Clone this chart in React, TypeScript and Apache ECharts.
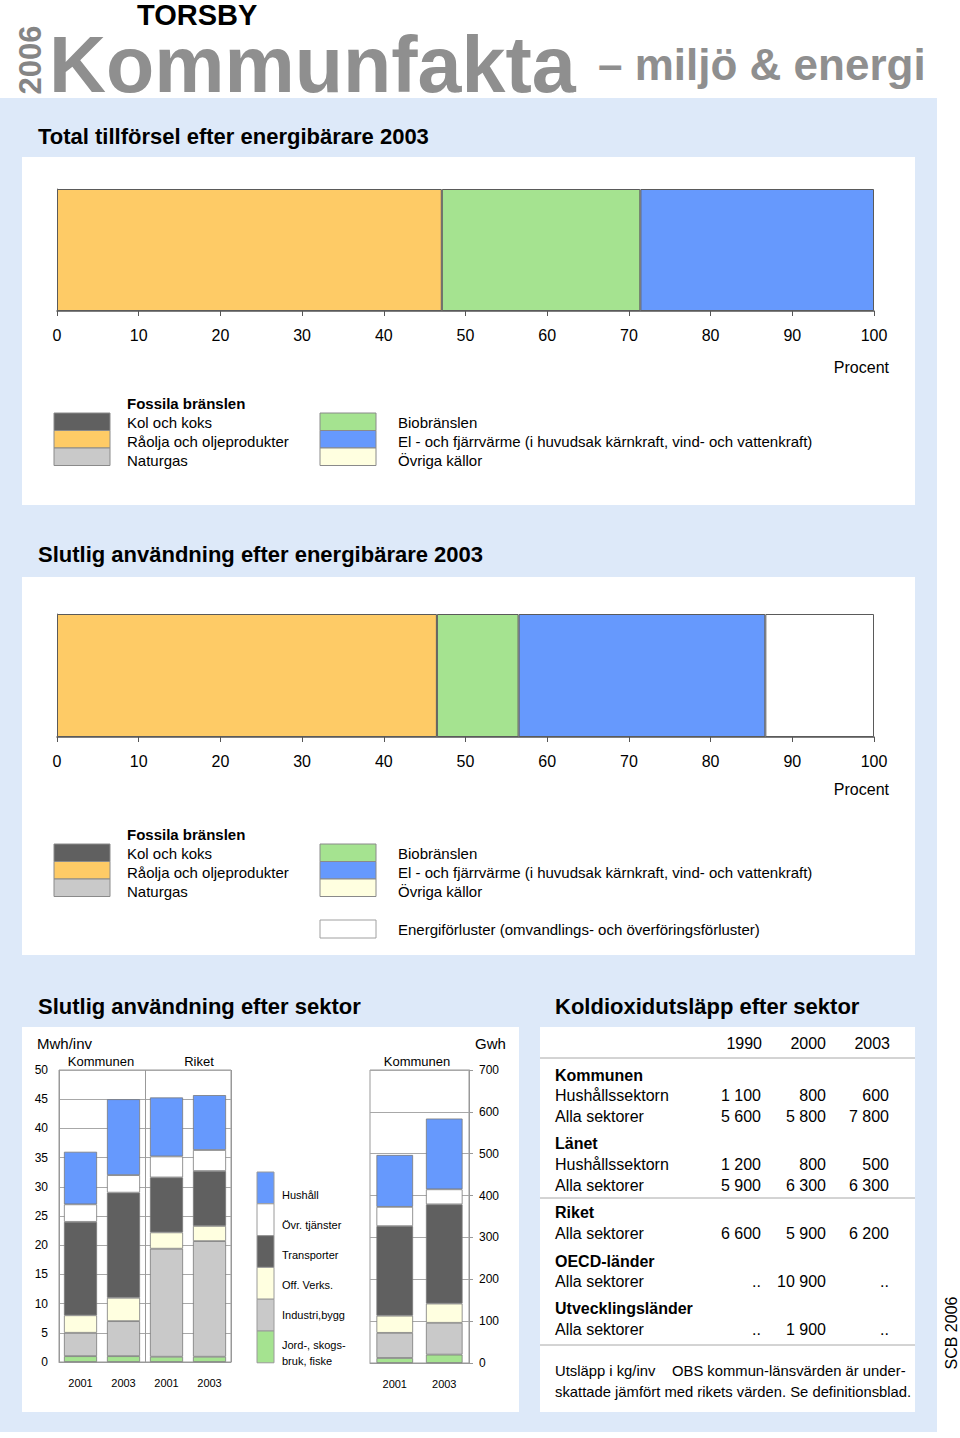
import React, { useEffect, useRef } from "react";
import * as echarts from "echarts";

const FONT = '"Liberation Sans", Arial, Helvetica, sans-serif';

// ---------- Data ----------
const carriers = [
  "Kol och koks",
  "Råolja och oljeprodukter",
  "Naturgas",
  "Biobränslen",
  "El - och fjärrvärme (i huvudsak kärnkraft, vind- och vattenkraft)",
  "Övriga källor",
  "Energiförluster (omvandlings- och överföringsförluster)",
];
const supplyShares2003 = [0, 47.1, 0, 24.3, 28.6, 0, 0];
const finalUseShares2003 = [0, 46.5, 0, 10.0, 30.2, 0, 13.3];
const percentTicks = ["0", "10", "20", "30", "40", "50", "60", "70", "80", "90", "100"];

const sectors = ["Jord-, skogsbruk, fiske", "Industri,bygg", "Off. Verks.", "Transporter", "Övr. tjänster", "Hushåll"];
const sectorLegendLabels = ["Jord-, skogs-\nbruk, fiske", "Industri,bygg", "Off. Verks.", "Transporter", "Övr. tjänster", "Hushåll"];
const perCapitaYears = ["2001", "2003", "2001", "2003"];
const perCapitaJord = [1.0, 1.0, 0.9, 0.9];
const perCapitaIndustri = [4.0, 6.0, 18.5, 19.8];
const perCapitaOff = [3.0, 4.0, 2.8, 2.6];
const perCapitaTransport = [16.0, 18.0, 9.4, 9.4];
const perCapitaOvr = [3.0, 3.0, 3.6, 3.6];
const perCapitaHushall = [9.0, 13.0, 10.1, 9.4];

const gwhYears = ["2001", "2003"];
const gwhJord = [12, 20];
const gwhIndustri = [60, 76];
const gwhOff = [41, 46];
const gwhTransport = [214, 237];
const gwhOvr = [46, 36];
const gwhHushall = [124, 169];

const co2Years = ["1990", "2000", "2003"];
const co2Kommunen = [
  ["Hushållssektorn", "1 100", "800", "600"],
  ["Alla sektorer", "5 600", "5 800", "7 800"],
];
const co2Lanet = [
  ["Hushållssektorn", "1 200", "800", "500"],
  ["Alla sektorer", "5 900", "6 300", "6 300"],
];
const co2Riket = [["Alla sektorer", "6 600", "5 900", "6 200"]];
const co2Oecd = [["Alla sektorer", "..", "10 900", ".."]];
const co2Utv = [["Alla sektorer", "..", "1 900", ".."]];

// ---------- Styles ----------
const C_DARK = "#606060";
const C_ORANGE = "#fecb66";
const C_GRAY = "#c9c9c9";
const C_GREEN = "#a5e390";
const C_BLUE = "#6699fd";
const C_CREAM = "#ffffe0";
const C_WHITE = "#ffffff";
const C_BG = "#dde9f9";
const carrierColors = [C_DARK, C_ORANGE, C_GRAY, C_GREEN, C_BLUE, C_CREAM, C_WHITE];
const sectorColors = [C_GREEN, C_GRAY, C_CREAM, C_DARK, C_WHITE, C_BLUE];

function txt(text: string, x: number, y: number, o: any = {}) {
  return {
    type: "text",
    z: 100,
    x: o.cx ?? 0,
    y: o.cy ?? 0,
    rotation: o.rotation ?? 0,
    style: {
      text,
      x: o.cx != null ? 0 : x,
      y: o.cy != null ? 0 : y,
      fill: o.color ?? "#000",
      fontSize: o.size ?? 15,
      fontWeight: o.weight ?? "normal",
      fontFamily: o.family ?? FONT,
      align: o.align ?? "left",
      textAlign: o.align ?? "left",
      verticalAlign: "middle",
      textVerticalAlign: "middle",
      lineHeight: o.lineHeight,
    },
  };
}
function rect(x: number, y: number, w: number, h: number, fill: string, stroke?: string, z = -5) {
  return {
    type: "rect",
    z,
    shape: { x, y, width: w, height: h },
    style: { fill, stroke: stroke ?? null, lineWidth: stroke ? 1 : 0 },
  };
}
function hline(x1: number, x2: number, y: number, color = "#a8a8a8") {
  return { type: "line", z: 50, shape: { x1, y1: y, x2, y2: y }, style: { stroke: color, lineWidth: 1 } };
}

function carrierLegend(y0: number, withLoss: boolean) {
  const els: any[] = [];
  els.push(txt("Fossila bränslen", 127, y0, { weight: "bold" }));
  const step = 19;
  const boxH = 17.5;
  const leftIdx = [0, 1, 2];
  const rightIdx = [3, 4, 5];
  leftIdx.forEach((ci, k) => {
    els.push(rect(54, y0 + 10 + k * boxH, 56, boxH, carrierColors[ci], "#8a8a8a", 60));
    els.push(txt(carriers[ci], 127, y0 + step * (k + 1)));
  });
  rightIdx.forEach((ci, k) => {
    els.push(rect(320, y0 + 10 + k * boxH, 56, boxH, carrierColors[ci], "#8a8a8a", 60));
    els.push(txt(carriers[ci], 398, y0 + step * (k + 1)));
  });
  if (withLoss) {
    els.push(rect(320, y0 + 86, 56, 18, carrierColors[6], "#a0a0a0", 60));
    els.push(txt(carriers[6], 398, y0 + 95));
  }
  return els;
}

function co2Block(rows: string[][], y0: number) {
  const els: any[] = [];
  const rights = [761, 826, 889];
  rows.forEach((r, i) => {
    const y = y0 + i * 21;
    els.push(txt(r[0], 555, y, { size: 16 }));
    for (let k = 1; k < 4; k++) els.push(txt(r[k], rights[k - 1], y, { size: 16, align: "right" }));
  });
  return els;
}

export default function App() {
  const ref = useRef<HTMLDivElement>(null);
  useEffect(() => {
    if (!ref.current) return;
    const chart = echarts.init(ref.current, undefined, { renderer: "svg" });

    const hbar = (vals: number[], axis: number, stack: string) =>
      vals
        .map((v, i) =>
          v > 0
            ? {
                type: "bar",
                name: carriers[i],
                stack,
                xAxisIndex: axis,
                yAxisIndex: axis,
                data: [v],
                barWidth: "100%",
                itemStyle: { color: carrierColors[i], borderColor: "#5a5a5a", borderWidth: 1 },
              }
            : null
        )
        .filter(Boolean);

    const pcData = [perCapitaJord, perCapitaIndustri, perCapitaOff, perCapitaTransport, perCapitaOvr, perCapitaHushall];
    const gwhData = [gwhJord, gwhIndustri, gwhOff, gwhTransport, gwhOvr, gwhHushall];
    const sectorSeries = (data: number[][], axis: number, stack: string, gap: string) =>
      data.map((d, i) => ({
        type: "bar",
        name: sectors[i],
        stack,
        xAxisIndex: axis,
        yAxisIndex: axis,
        data: d,
        barCategoryGap: gap,
        itemStyle: { color: sectorColors[i], borderColor: "#7a7a7a", borderWidth: 0.8 },
      }));

    const pctAxis = (g: number) => ({
      gridIndex: g,
      type: "value",
      min: 0,
      max: 100,
      interval: 10,
      axisLine: { show: true, lineStyle: { color: "#555", width: 1.5 } },
      axisTick: { show: true, length: 5, lineStyle: { color: "#555" } },
      axisLabel: {
        fontSize: 16,
        color: "#000",
        fontFamily: FONT,
        margin: 16,
        formatter: (v: number) => percentTicks[Math.round(v / 10)] ?? String(v),
      },
      splitLine: { show: false },
    });
    const catHidden = (g: number) => ({
      gridIndex: g,
      type: "category",
      data: ["2003"],
      axisLine: { show: true, lineStyle: { color: "#777" } },
      axisTick: { show: false },
      axisLabel: { show: false },
    });

    const graphic: any[] = [];
    // backgrounds
    graphic.push(rect(0, 98, 937, 1334, C_BG, undefined, -20));
    graphic.push(rect(22, 157, 893, 348, "#fff", undefined, -10));
    graphic.push(rect(22, 577, 893, 378, "#fff", undefined, -10));
    graphic.push(rect(22, 1027, 497, 385, "#fff", undefined, -10));
    graphic.push(rect(540, 1027, 375, 385, "#fff", undefined, -10));

    // header
    graphic.push(txt("TORSBY", 137, 15, { size: 29, weight: "bold", lineHeight: 25 }));
    graphic.push(txt("2006", 0, 0, { cx: 30, cy: 60, rotation: Math.PI / 2, size: 31, weight: "bold", color: "#858585", align: "center" }));
    graphic.push(txt("Kommunfakta", 49, 64, { size: 79, weight: "bold", color: "#8f8f8f", lineHeight: 54 }));
    graphic.push(txt("– miljö & energi", 598, 64, { size: 44, weight: "bold", color: "#8f8f8f" }));

    // section titles
    graphic.push(txt("Total tillförsel efter energibärare 2003", 38, 136, { size: 22, weight: "bold" }));
    graphic.push(txt("Slutlig användning efter energibärare 2003", 38, 554, { size: 22, weight: "bold" }));
    graphic.push(txt("Slutlig användning efter sektor", 38, 1006, { size: 22, weight: "bold" }));
    graphic.push(txt("Koldioxidutsläpp efter sektor", 555, 1006, { size: 22, weight: "bold" }));

    graphic.push(txt("Procent", 889, 367, { size: 16, align: "right" }));
    graphic.push(txt("Procent", 889, 789, { size: 16, align: "right" }));
    graphic.push(...carrierLegend(403, false));
    graphic.push(...carrierLegend(834, true));

    // sector chart labels
    graphic.push(txt("Mwh/inv", 37, 1043, { size: 15 }));
    graphic.push(txt("Kommunen", 101, 1061, { size: 13, align: "center" }));
    graphic.push(txt("Riket", 199, 1061, { size: 13, align: "center" }));
    graphic.push(txt("Gwh", 475, 1043, { size: 15 }));
    graphic.push(txt("Kommunen", 417, 1061, { size: 13, align: "center" }));

    // sector legend (top to bottom: Hushåll ... Jord)
    for (let k = 0; k < 6; k++) {
      const si = 5 - k;
      const y = 1172 + k * 31.8;
      graphic.push(rect(257, y, 17, 31.8, sectorColors[si], "#9a9a9a", 60));
      if (si === 0) {
        graphic.push(txt("Jord-, skogs-", 282, 1345, { size: 11 }));
        graphic.push(txt("bruk, fiske", 282, 1361, { size: 11 }));
      } else {
        graphic.push(txt(sectorLegendLabels[si], 282, 1195 + k * 30, { size: 11 }));
      }
    }

    // CO2 table
    const yr = [762, 826, 890];
    co2Years.forEach((y, i) => graphic.push(txt(y, yr[i], 1043, { size: 16, align: "right" })));
    graphic.push(hline(540, 915, 1058));
    graphic.push(txt("Kommunen", 555, 1075, { size: 16, weight: "bold" }));
    graphic.push(...co2Block(co2Kommunen, 1095));
    graphic.push(txt("Länet", 555, 1143, { size: 16, weight: "bold" }));
    graphic.push(...co2Block(co2Lanet, 1164));
    graphic.push(hline(540, 915, 1198));
    graphic.push(txt("Riket", 555, 1212, { size: 16, weight: "bold" }));
    graphic.push(...co2Block(co2Riket, 1233));
    graphic.push(txt("OECD-länder", 555, 1261, { size: 16, weight: "bold" }));
    graphic.push(...co2Block(co2Oecd, 1281));
    graphic.push(txt("Utvecklingsländer", 555, 1308, { size: 16, weight: "bold" }));
    graphic.push(...co2Block(co2Utv, 1329));
    graphic.push(hline(540, 915, 1345));
    graphic.push(txt("Utsläpp i kg/inv", 555, 1371, { size: 14.8 }));
    graphic.push(txt("OBS kommun-länsvärden är under-", 672, 1371, { size: 14.8 }));
    graphic.push(txt("skattade jämfört med rikets värden. Se definitionsblad.", 555, 1392, { size: 14.8 }));

    graphic.push(txt("SCB 2006", 0, 0, { cx: 951, cy: 1333, rotation: Math.PI / 2, size: 16, align: "center" }));

    const option: any = {
      animation: false,
      backgroundColor: "#ffffff",
      textStyle: { fontFamily: FONT },
      grid: [
        { left: 57, top: 189, width: 817, height: 122, show: false },
        { left: 57, top: 614, width: 817, height: 123, show: false },
        { left: 59, top: 1070, width: 172, height: 292, show: true, borderColor: "#999", borderWidth: 1 },
        { left: 370, top: 1070, width: 99, height: 293, show: true, borderColor: "#999", borderWidth: 1 },
      ],
      xAxis: [
        pctAxis(0),
        pctAxis(1),
        {
          gridIndex: 2,
          type: "category",
          data: perCapitaYears,
          axisLine: { show: true, lineStyle: { color: "#999" } },
          axisTick: { show: false },
          axisLabel: { fontSize: 11, color: "#000", fontFamily: FONT, margin: 15 },
        },
        {
          gridIndex: 3,
          type: "category",
          data: gwhYears,
          axisLine: { show: true, lineStyle: { color: "#999" } },
          axisTick: { show: false },
          axisLabel: { fontSize: 11, color: "#000", fontFamily: FONT, margin: 15 },
        },
        {
          // helper axis: divider between Kommunen and Riket groups
          gridIndex: 2,
          type: "value",
          position: "top",
          min: 0,
          max: 4,
          interval: 2,
          axisLine: { show: false },
          axisTick: { show: false },
          axisLabel: { show: false },
          splitLine: { show: true, lineStyle: { color: "#999" } },
        },
      ],
      yAxis: [
        catHidden(0),
        catHidden(1),
        {
          gridIndex: 2,
          type: "value",
          min: 0,
          max: 50,
          interval: 5,
          axisLine: { show: false },
          axisTick: { show: false },
          axisLabel: { fontSize: 12, color: "#000", fontFamily: FONT, margin: 11 },
          splitLine: { show: true, lineStyle: { color: "#a8a8a8" } },
        },
        {
          gridIndex: 3,
          type: "value",
          position: "right",
          min: 0,
          max: 700,
          interval: 100,
          axisLine: { show: true, lineStyle: { color: "#999" } },
          axisTick: { show: true, length: 4, lineStyle: { color: "#999" } },
          axisLabel: { fontSize: 12, color: "#000", fontFamily: FONT, margin: 10 },
          splitLine: { show: true, lineStyle: { color: "#a8a8a8" } },
        },
      ],
      series: [
        ...hbar(supplyShares2003, 0, "supply"),
        ...hbar(finalUseShares2003, 1, "use"),
        ...sectorSeries(pcData, 2, "pc", "23%"),
        ...sectorSeries(gwhData, 3, "gwh", "26%"),
      ],
      graphic: { elements: graphic },
    };
    chart.setOption(option);
    return () => chart.dispose();
  }, []);
  return <div ref={ref} style={{ position: "absolute", left: 0, top: 0, width: 960, height: 1438 }} />;
}
